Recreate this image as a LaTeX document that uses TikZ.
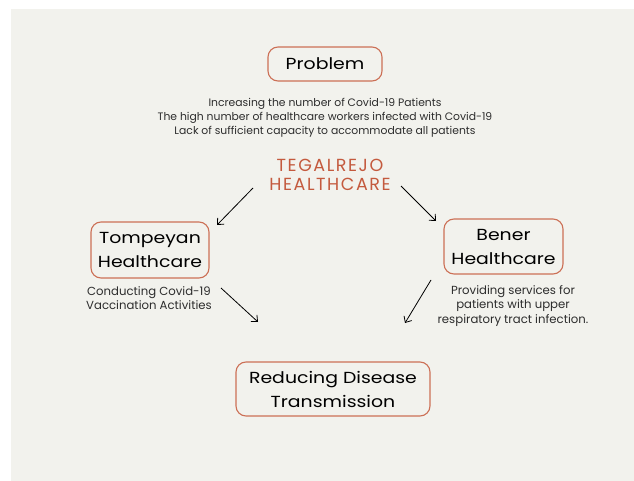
\documentclass[tikz,border=0pt]{standalone}
\usepackage{fontspec}
\setmainfont{Poppins}
\newfontfamily\headfont[FakeStretch=1.18]{Poppins}
\newfontfamily\capsfont[LetterSpace=9]{Poppins}
\usetikzlibrary{arrows.meta}
\definecolor{panel}{RGB}{242,242,237}
\definecolor{rust}{RGB}{196,90,62}
\definecolor{boxline}{RGB}{204,112,86}
\definecolor{ink}{RGB}{45,45,45}
\begin{document}
\begin{tikzpicture}[x=1pt,y=-1pt,
    card/.style={draw=boxline, line width=1.1pt, rounded corners=10pt, fill=panel,
      align=center, text=black, inner sep=0pt, font=\headfont\fontsize{16}{24}\selectfont},
    note/.style={align=center, text=ink, font=\fontsize{10.8}{14}\selectfont},
    caption/.style={align=center, text=ink, font=\fontsize{11.7}{14.5}\selectfont},
    flow/.style={-{Straight Barb[length=5pt,width=9pt]}, line width=0.8pt}]
        \useasboundingbox (0,0) rectangle (634,481);
        \fill[white] (0,0) rectangle (634,481);
        \fill[panel] (11,9) rectangle (634,481);
        % boxes
        \node[card, minimum width=114pt, minimum height=34pt] (problem) at (325,64) {Problem};
        \node[card, minimum width=118pt, minimum height=56pt] (tompeyan) at (150,250) {Tompeyan\\Healthcare};
        \node[card, minimum width=119pt, minimum height=55pt] (bener) at (503.5,246.5) {Bener\\Healthcare};
        \node[card, minimum width=194pt, minimum height=54pt] (reducing) at (333,389) {Reducing Disease\\Transmission};
        % texts
        \node[note] (causes) at (325,118) {Increasing the number of Covid-19 Patients\\The high number of healthcare workers infected with Covid-19\\Lack of sufficient capacity to accommodate all patients};
        \node[align=center, text=rust, font=\capsfont\fontsize{17.5}{19.5}\selectfont] (tegal) at (330,175) {TEGALREJO\\HEALTHCARE};
        \node[caption] (vaccine) at (149,298) {Conducting Covid-19\\Vaccination Activities};
        \node[caption] (services) at (513,306) {Providing services for\\patients with upper\\respiratory tract infection.};
        % arrows
        \coordinate (t1) at (253,188);
        \coordinate (t2) at (217,225);
        \coordinate (b1) at (401,186);
        \coordinate (b2) at (436,221);
        \coordinate (v1) at (221,288);
        \coordinate (v2) at (258,322);
        \coordinate (s1) at (431,280);
        \coordinate (s2) at (405,323);
        \draw[flow] (t1) -- (t2);
        \draw[flow] (b1) -- (b2);
        \draw[flow] (v1) -- (v2);
        \draw[flow] (s1) -- (s2);
\end{tikzpicture}
\end{document}
